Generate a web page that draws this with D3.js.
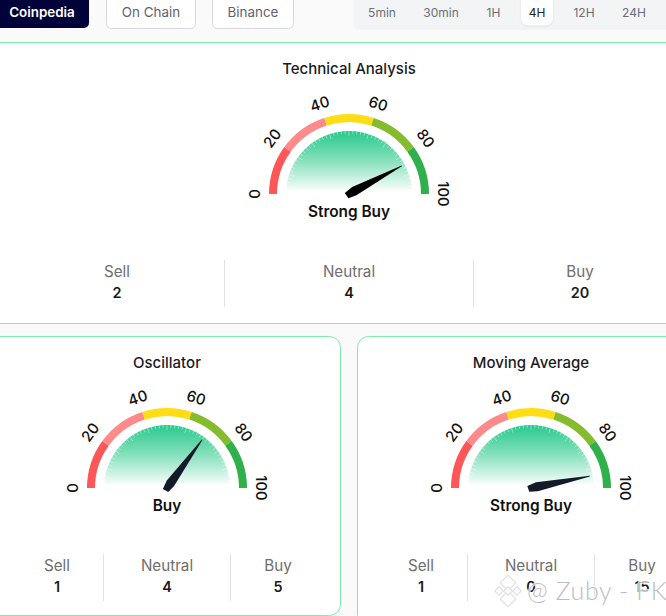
<!DOCTYPE html>
<html lang="en">
<head>
<meta charset="UTF-8">
<title>Technical Analysis</title>
<script src="https://d3js.org/d3.v7.min.js"></script>
<style>
    html, body { margin: 0; padding: 0; background: #fafafa; overflow: hidden; }
    svg { display: block; font-family: Inter, "Noto Sans", sans-serif; }
    .tab { font-size: 13.4px; fill: #5f6270; text-anchor: middle; dominant-baseline: central; }
    .time { font-size: 12px; fill: #6b6e75; text-anchor: middle; dominant-baseline: central; }
    .title { font-size: 15px; font-weight: 500; fill: #1b1b1f; text-anchor: middle; }
    .tick { font-size: 15px; font-weight: 500; fill: #111; text-anchor: middle; dominant-baseline: central; }
    .verdict { font-size: 15.4px; font-weight: 600; fill: #111; text-anchor: middle; }
    .stat-label { font-size: 15.2px; fill: #6e6e6e; text-anchor: middle; }
    .stat-value { font-size: 14.4px; font-weight: 600; fill: #1a1a1a; text-anchor: middle; }
</style>
</head>
<body>
<svg width="666" height="616"></svg>
<script>
    // values
    const tabNames = ["Coinpedia", "On Chain", "Binance"];
    const timeNames = ["5min", "30min", "1H", "4H", "12H", "24H"];
    const activeTime = "4H";
    const gaugeTitles = ["Technical Analysis", "Oscillator", "Moving Average"];
    const gaugeVerdicts = ["Strong Buy", "Buy", "Strong Buy"];
    const gaugeValues = [84.4, 70, 93.6];
    const statNames = ["Sell", "Neutral", "Buy"];
    const sellCounts = [2, 1, 1];
    const neutralCounts = [4, 4, 0];
    const buyCounts = [20, 5, 15];
    const tickLabels = [0, 20, 40, 60, 80, 100];
    const bandColors = ["#ff5658", "#ff8a8c", "#ffdd14", "#84bc2e", "#2fb04a"];

    // layout, one entry per gauge
    const gaugeX = [349, 167, 531];
    const gaugeY = [194, 488, 488];
    const titleY = [73.5, 367.5, 367.5];
    const statX = [[117, 349, 580], [57, 167, 278], [421, 531, 642]];
    const dividerX = [[224.5, 473.5], [103.5, 230.5], [467.5, 594.5]];
    const needleColors = ["#000000", "#141a28", "#141a28"];
    const timeX = [382, 441, 493.5, 537, 584, 634];

    const svg = d3.select("svg");
    const green = "#7eedab";

    const angle = d3.scaleLinear().domain([0, 100]).range([-Math.PI / 2, Math.PI / 2]);

    const defs = svg.append("defs");
    const grad = defs.append("linearGradient")
        .attr("id", "fillGrad")
        .attr("gradientUnits", "userSpaceOnUse")
        .attr("x1", 0).attr("x2", 0).attr("y1", -63).attr("y2", -4);
    grad.append("stop").attr("offset", "0%").attr("stop-color", "#27c98d");
    grad.append("stop").attr("offset", "50%").attr("stop-color", "#85e0bc");
    grad.append("stop").attr("offset", "100%").attr("stop-color", "#f6fdfa");

    // panels
    svg.append("rect").attr("x", -10).attr("y", 42.5).attr("width", 690).attr("height", 281)
        .attr("rx", 6).attr("fill", "#fff").attr("stroke", green);
    svg.append("rect").attr("x", -20).attr("y", 336.5).attr("width", 360.5).attr("height", 279)
        .attr("rx", 11).attr("fill", "#fff").attr("stroke", green);
    svg.append("rect").attr("x", 357.5).attr("y", 336.5).attr("width", 340).attr("height", 290)
        .attr("rx", 11).attr("fill", "#fff").attr("stroke", green);

    // source tabs
    const tabRects = [[-10, 99], [106.5, 89], [212.5, 81]];
    tabNames.forEach((name, i) => {
        const active = i === 0;
        svg.append("rect")
            .attr("x", tabRects[i][0]).attr("y", -6)
            .attr("width", tabRects[i][1]).attr("height", active ? 34 : 34.5)
            .attr("rx", 5)
            .attr("fill", active ? "#02023a" : "#fff")
            .attr("stroke", active ? "none" : "#d6d8e0");
        svg.append("text").attr("class", "tab")
            .attr("x", tabRects[i][0] + tabRects[i][1] / 2 + (active ? 2.5 : 0)).attr("y", 12)
            .style("fill", active ? "#fff" : null)
            .style("font-weight", active ? 600 : null)
            .text(name);
    });

    // time frames
    svg.append("rect").attr("x", 353).attr("y", -8).attr("width", 330).attr("height", 38)
        .attr("rx", 7).attr("fill", "#f3f4f6");
    timeNames.forEach((name, i) => {
        if (name === activeTime) {
            svg.append("rect").attr("x", timeX[i] - 16).attr("y", -6).attr("width", 32).attr("height", 31.5)
                .attr("rx", 7).attr("fill", "#fff")
                .style("filter", "drop-shadow(0 1px 1px rgba(0,0,0,0.08))");
        }
        svg.append("text").attr("class", "time")
            .attr("x", timeX[i]).attr("y", 12)
            .style("fill", name === activeTime ? "#222" : null)
            .text(name);
    });

    const bandArc = d3.arc().innerRadius(72).outerRadius(80);
    const fillArc = d3.arc().innerRadius(0).outerRadius(63)
        .startAngle(angle(0)).endAngle(angle(100));
    const needlePath = "M-0.4,-60 L0.4,-60 L4.6,-6 L3.4,2.5 L-2.8,3.2 L-4.6,-6 Z";

    gaugeTitles.forEach((title, g) => {
        svg.append("text").attr("class", "title")
            .attr("x", gaugeX[g]).attr("y", titleY[g]).text(title);

        const gauge = svg.append("g")
            .attr("transform", `translate(${gaugeX[g]},${gaugeY[g]})`);

        // coloured bands between the tick labels
        gauge.selectAll(".band")
            .data(bandColors)
            .enter().append("path")
            .attr("class", "band")
            .attr("fill", d => d)
            .attr("d", (d, i) => bandArc({
                startAngle: angle(tickLabels[i]),
                endAngle: angle(tickLabels[i + 1])
            }));

        // inner green dial, cut off a little above the base line
        gauge.append("path").attr("d", fillArc()).attr("fill", "url(#fillGrad)");

        // small white marks round the dial
        gauge.selectAll(".mark")
            .data(d3.range(0, 101, 2))
            .enter().append("line")
            .attr("class", "mark")
            .attr("y1", -63.5)
            .attr("y2", d => d % 10 === 0 ? -58 : -60)
            .attr("stroke", "#fff")
            .attr("stroke-opacity", 0.5)
            .attr("stroke-width", 0.8)
            .attr("transform", d => `rotate(${angle(d) * 180 / Math.PI})`);
        gauge.append("rect").attr("x", -66).attr("y", -4).attr("width", 132).attr("height", 6).attr("fill", "#fff");

        // tick labels, turned to follow the arc
        gauge.selectAll(".tick")
            .data(tickLabels)
            .enter().append("text")
            .attr("class", "tick")
            .attr("transform", d => {
                const a = angle(d);
                const r = d === 100 ? 94 : 95;
                const deg = a * 180 / Math.PI;
                return `translate(${r * Math.sin(a)},${-r * Math.cos(a)}) rotate(${deg})`;
            })
            .text(d => d);

        gauge.append("path")
            .attr("d", needlePath)
            .attr("fill", needleColors[g])
            .attr("transform", `rotate(${angle(gaugeValues[g]) * 180 / Math.PI})`);

        gauge.append("text").attr("class", "verdict")
            .attr("y", 23).text(gaugeVerdicts[g]);

        // counts below the gauge
        const counts = [sellCounts[g], neutralCounts[g], buyCounts[g]];
        statNames.forEach((name, i) => {
            svg.append("text").attr("class", "stat-label")
                .attr("x", statX[g][i]).attr("y", gaugeY[g] + 82.5).text(name);
            svg.append("text").attr("class", "stat-value")
                .attr("x", statX[g][i]).attr("y", gaugeY[g] + 104).text(counts[i]);
        });
        dividerX[g].forEach(x => {
            svg.append("line")
                .attr("x1", x).attr("x2", x)
                .attr("y1", gaugeY[g] + 66).attr("y2", gaugeY[g] + 113)
                .attr("stroke", "#e2e2e2");
        });
    });

    // watermark over the corner
    const mark = svg.append("g").attr("transform", "translate(508,591)");
    [[0, -8, 5.5], [-9, 0, 3], [9, 0, 3], [0, 8, 5.5], [0, 0, 3]].forEach(d => {
        mark.append("rect")
            .attr("x", d[0] - d[2]).attr("y", d[1] - d[2])
            .attr("width", d[2] * 2).attr("height", d[2] * 2)
            .attr("transform", `rotate(45 ${d[0]} ${d[1]})`)
            .attr("fill", "#fff").attr("fill-opacity", 0.8)
            .attr("stroke", "#dcdcdc");
    });
    svg.append("text")
        .attr("x", 527).attr("y", 600)
        .style("font-size", "25px")
        .style("font-family", "Lato, sans-serif")
        .style("font-weight", 300)
        .style("letter-spacing", "0.6px")
        .style("fill", "#bdbdbd")
        .style("paint-order", "stroke")
        .style("stroke", "rgba(255,255,255,0.75)")
        .style("stroke-width", "2px")
        .text("@ Zuby - FK");
</script>
</body>
</html>
